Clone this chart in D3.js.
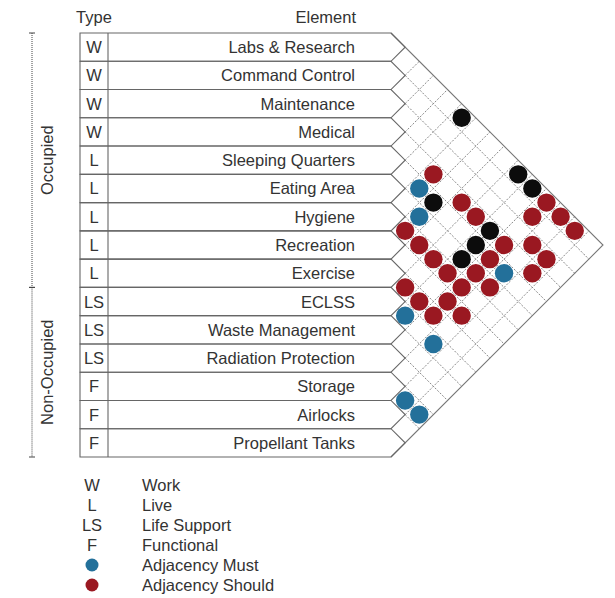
<!DOCTYPE html>
<html>
<head>
<meta charset="utf-8">
<script src="https://cdn.jsdelivr.net/npm/d3@7"></script>
<style>
  body { margin: 0; background: #fff; }
  text { font-family: "Liberation Sans", Arial, sans-serif; fill: #333; font-size: 16.5px; }
</style>
</head>
<body>
<svg id="chart" width="615" height="598"></svg>
<script>
// rows of the matrix, top to bottom
var elements = ["Labs & Research", "Command Control", "Maintenance", "Medical",
  "Sleeping Quarters", "Eating Area", "Hygiene", "Recreation", "Exercise",
  "ECLSS", "Waste Management", "Radiation Protection", "Storage", "Airlocks",
  "Propellant Tanks"];
var types = ["W", "W", "W", "W", "L", "L", "L", "L", "L", "LS", "LS", "LS", "F", "F", "F"];

var groups = [
  { name: "Occupied", first: "Labs & Research", last: "Exercise" },
  { name: "Non-Occupied", first: "ECLSS", last: "Propellant Tanks" }
];

// pairs
var mustPairs = [
  ["Sleeping Quarters", "Hygiene"], ["Eating Area", "Recreation"],
  ["Sleeping Quarters", "Storage"], ["ECLSS", "Waste Management"],
  ["ECLSS", "Storage"], ["Storage", "Airlocks"], ["Storage", "Propellant Tanks"]
];
var shouldPairs = [
  ["Medical", "Hygiene"], ["Medical", "Exercise"], ["Medical", "ECLSS"],
  ["Labs & Research", "Radiation Protection"], ["Command Control", "Radiation Protection"],
  ["Labs & Research", "Storage"], ["Hygiene", "Recreation"], ["Labs & Research", "Airlocks"],
  ["Hygiene", "Exercise"], ["Medical", "Radiation Protection"], ["Maintenance", "Storage"],
  ["Hygiene", "ECLSS"], ["Sleeping Quarters", "Radiation Protection"], ["Maintenance", "Airlocks"],
  ["Hygiene", "Waste Management"], ["Eating Area", "Radiation Protection"], ["Medical", "Airlocks"],
  ["Exercise", "ECLSS"], ["Hygiene", "Radiation Protection"], ["Eating Area", "Storage"],
  ["Exercise", "Waste Management"], ["Recreation", "Radiation Protection"],
  ["Exercise", "Radiation Protection"], ["Recreation", "Storage"]
];
var mustNotPairs = [
  ["Labs & Research", "Eating Area"], ["Sleeping Quarters", "Recreation"],
  ["Labs & Research", "ECLSS"], ["Labs & Research", "Waste Management"],
  ["Medical", "Waste Management"], ["Sleeping Quarters", "Waste Management"],
  ["Eating Area", "Waste Management"]
];

var typeLegend = [["W", "Work"], ["L", "Live"], ["LS", "Life Support"], ["F", "Functional"]];
var dotLegend = [["must", "Adjacency Must"], ["should", "Adjacency Should"]];

var colors = { must: "#23709a", should: "#9a1821", mustNot: "#0c0c0c" };

var svg = d3.select("#chart");
var tableLeft = 80, typeRight = 108, labelRight = 355, x0 = 391;

var y = d3.scaleBand().domain(elements).range([33, 457]).paddingInner(0);
var h = y.bandwidth();
var yB = function (k) { return 33 + k * h; }; // row boundary k

// group brackets on the left
groups.forEach(function (g) {
  var a = y(g.first), b = y(g.last) + h;
  svg.append("line").attr("x1", 32).attr("x2", 32).attr("y1", a).attr("y2", b)
    .style("stroke", "#444").style("stroke-width", 1).style("stroke-dasharray", "1,1");
  [a, b].forEach(function (v) {
    svg.append("line").attr("x1", 29).attr("x2", 35).attr("y1", v).attr("y2", v)
      .style("stroke", "#444").style("stroke-width", 1);
  });
  svg.append("text")
    .attr("transform", "translate(53," + (a + b) / 2 + ") rotate(-90)")
    .attr("text-anchor", "middle").text(g.name);
});

// headers
svg.append("text").attr("x", (tableLeft + typeRight) / 2).attr("y", 23)
  .attr("text-anchor", "middle").text("Type");
svg.append("text").attr("x", labelRight + 1).attr("y", 23)
  .attr("text-anchor", "end").text("Element");

// dotted grid inside the triangle
var n = elements.length;
var grid = svg.append("g");
d3.range(1, n).forEach(function (k) {
  // down-right from boundary k to bottom edge, up-right to top edge
  grid.append("line")
    .attr("x1", x0 + h / 2).attr("y1", yB(k) + h / 2)
    .attr("x2", x0 + (n - k) * h / 2).attr("y2", (yB(k) + yB(n)) / 2);
  grid.append("line")
    .attr("x1", x0 + h / 2).attr("y1", yB(k) - h / 2)
    .attr("x2", x0 + k * h / 2).attr("y2", (yB(0) + yB(k)) / 2);
});
grid.selectAll("line").style("stroke", "#7a7a7a").style("stroke-width", 0.9)
  .style("stroke-dasharray", "2,1.5");

// outer triangle
svg.append("path")
  .attr("d", "M" + x0 + "," + yB(0) + "L" + (x0 + n * h / 2) + "," + (yB(0) + yB(n)) / 2 + "L" + x0 + "," + yB(n))
  .style("fill", "none").style("stroke", "#777").style("stroke-width", 1.1);

// table rows with pointed ends
elements.forEach(function (e, i) {
  var top = y(e), bot = top + h;
  svg.append("path")
    .attr("d", "M" + tableLeft + "," + top + "L" + x0 + "," + top + "L" + (x0 + h / 2) + "," + (top + h / 2) +
      "L" + x0 + "," + bot + "L" + tableLeft + "," + bot + "Z")
    .style("fill", "none").style("stroke", "#666").style("stroke-width", 1.1);
  svg.append("text").attr("x", (tableLeft + typeRight) / 2).attr("y", top + h / 2 + 6)
    .attr("text-anchor", "middle").text(types[i]);
  svg.append("text").attr("x", labelRight).attr("y", top + h / 2 + 6)
    .attr("text-anchor", "end").text(e);
});
svg.append("line").attr("x1", typeRight).attr("x2", typeRight).attr("y1", yB(0)).attr("y2", yB(n))
  .style("stroke", "#666").style("stroke-width", 1.1);

// adjacency dots
function cell(p) {
  var i = elements.indexOf(p[0]), j = elements.indexOf(p[1]);
  return { x: x0 + Math.abs(j - i) * h / 2, y: (y(p[0]) + y(p[1])) / 2 + h / 2 };
}
[["mustNot", mustNotPairs], ["must", mustPairs], ["should", shouldPairs]].forEach(function (s) {
  svg.append("g").selectAll("circle").data(s[1]).join("circle")
    .attr("cx", function (d) { return cell(d).x; })
    .attr("cy", function (d) { return cell(d).y; })
    .attr("r", 9.2)
    .style("fill", colors[s[0]]);
});

// legend
var ly = d3.scaleLinear().domain([0, 1]).range([485, 505]);
typeLegend.forEach(function (t, k) {
  svg.append("text").attr("x", 92).attr("y", ly(k) + 6).attr("text-anchor", "middle").text(t[0]);
  svg.append("text").attr("x", 142).attr("y", ly(k) + 6).text(t[1]);
});
dotLegend.forEach(function (t, k) {
  var r = ly(k + typeLegend.length);
  svg.append("circle").attr("cx", 92).attr("cy", r).attr("r", 6.5).style("fill", colors[t[0]]);
  svg.append("text").attr("x", 142).attr("y", r + 6).text(t[1]);
});
</script>
</body>
</html>
